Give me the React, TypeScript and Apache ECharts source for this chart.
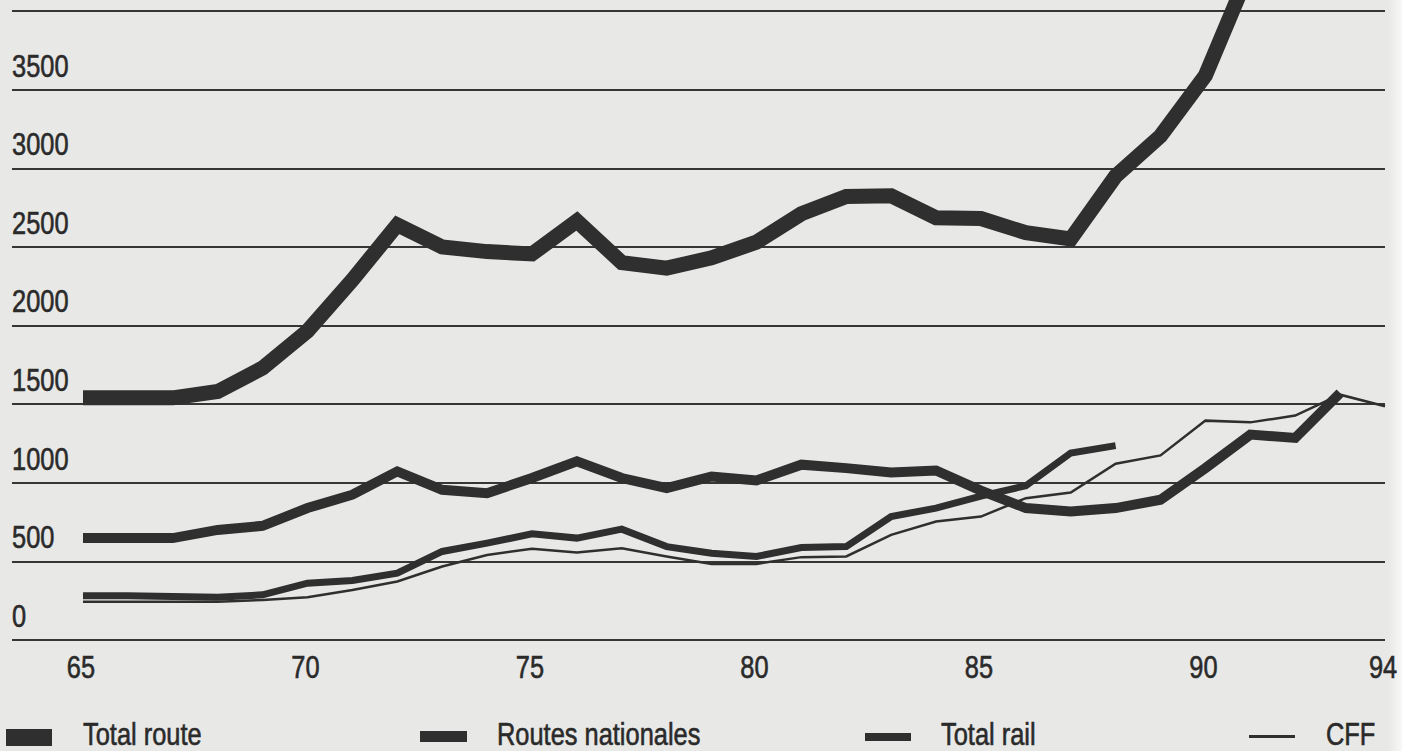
import React, { useEffect, useRef } from "react";
import * as echarts from "echarts";

// ---- data ----
const years = [65, 66, 67, 68, 69, 70, 71, 72, 73, 74, 75, 76, 77, 78, 79, 80, 81, 82, 83, 84, 85, 86, 87, 88, 89, 90, 91, 92, 93, 94];

const totalRoute = [1540, 1540, 1540, 1580, 1730, 1965, 2290, 2640, 2500, 2470, 2455, 2665, 2400, 2365, 2430, 2530, 2710, 2820, 2825, 2685, 2680, 2590, 2550, 2950, 3205, 3590, 4270];

const routesNationales = [648, 648, 648, 700, 726, 839, 924, 1072, 955, 934, 1030, 1136, 1030, 966, 1040, 1015, 1115, 1093, 1066, 1078, 950, 839, 817, 839, 892, 1093, 1306, 1285, 1571];

const totalRail = [282, 282, 276, 272, 287, 361, 378, 425, 563, 616, 675, 648, 705, 594, 552, 531, 588, 594, 785, 839, 915, 981, 1189, 1236];

const cff = [244, 244, 244, 244, 255, 272, 318, 372, 467, 541, 580, 556, 584, 531, 484, 484, 527, 531, 669, 754, 785, 902, 938, 1121, 1174, 1395, 1384, 1427, 1560, 1486];

const xTickLabels = [65, 70, 75, 80, 85, 90, 94];
const yTickLabels = [0, 500, 1000, 1500, 2000, 2500, 3000, 3500];
const yMin = 0;
const yMax = 4000;
const yInterval = 500;

const seriesNames = ["Total route", "Routes nationales", "Total rail", "CFF"];

const FONT = "'Liberation Sans', Arial, sans-serif";
const FONT_SIZE = 31;
const NARROW = 0.82; // Arial Narrow is Arial condensed to ~82 %
const INK = "#2f2f2f";
const TEXT = "#2a2a2a";
const BG = "#e8e8e6";

function pairs(values: number[]) {
  return values.map((v, i) => [years[i], v]);
}

function narrowText(x: number, y: number, text: string, align: string) {
  return {
    type: "text",
    x,
    y,
    scaleX: NARROW,
    silent: true,
    z: 100,
    style: {
      text,
      fill: TEXT,
      stroke: TEXT,
      lineWidth: 0.6,
      fontFamily: FONT,
      fontSize: FONT_SIZE,
      align,
      verticalAlign: "middle",
    },
  };
}

export default function App() {
  const ref = useRef<HTMLDivElement>(null);

  useEffect(() => {
    if (!ref.current) return;
    const chart = echarts.init(ref.current, null, { renderer: "svg" });

    const widths = [15, 10, 7, 2.5];
    const datasets = [totalRoute, routesNationales, totalRail, cff];

    chart.setOption({
      animation: false,
      backgroundColor: BG,
      grid: {
        left: 12,
        right: 17,
        top: 11,
        bottom: 111,
        containLabel: false,
        outerBoundsMode: "none",
      },
      xAxis: {
        type: "value",
        min: 65 - 71 / 44.9,
        max: 94,
        axisLine: { show: false },
        axisTick: { show: false },
        splitLine: { show: false },
        axisLabel: { show: false },
      },
      yAxis: {
        type: "value",
        min: yMin,
        max: yMax,
        interval: yInterval,
        axisLine: { show: false },
        axisTick: { show: false },
        splitLine: { show: true, lineStyle: { color: "#363636", width: 2 } },
        axisLabel: { show: false },
      },
      series: seriesNames.map((name, i) => ({
        name,
        type: "line",
        data: pairs(datasets[i]),
        symbol: "none",
        showSymbol: false,
        clip: false,
        z: 2 + i,
        lineStyle: { color: INK, width: widths[i], join: "miter", cap: "butt" },
      })),
    });

    // tick labels placed through the chart's own scales
    const graphic: any[] = [
      {
        type: "rect",
        z: -10,
        silent: true,
        shape: { x: 1388, y: 0, width: 14, height: 751 },
        style: {
          fill: new echarts.graphic.LinearGradient(0, 0, 1, 0, [
            { offset: 0, color: BG },
            { offset: 1, color: "#f8f8f8" },
          ]),
        },
      },
    ];

    const gridLeft = 12;
    const zeroY = chart.convertToPixel({ yAxisIndex: 0 }, 0) as number;
    yTickLabels.forEach((v) => {
      const py = chart.convertToPixel({ yAxisIndex: 0 }, v) as number;
      graphic.push(narrowText(gridLeft, py - 24, String(v), "left"));
    });
    xTickLabels.forEach((v) => {
      const px = chart.convertToPixel({ xAxisIndex: 0 }, v) as number;
      graphic.push(narrowText(px - 2, zeroY + 27, String(v), "center"));
    });

    // legend
    const legendLayout = [
      { sx: 6, sy: 729, sw: 46, sh: 17, tx: 83 },
      { sx: 420, sy: 731, sw: 47, sh: 11, tx: 497 },
      { sx: 865, sy: 733, sw: 46, sh: 8, tx: 941 },
      { sx: 1249, sy: 735, sw: 46, sh: 3, tx: 1326 },
    ];
    seriesNames.forEach((name, i) => {
      const L = legendLayout[i];
      graphic.push({
        type: "rect",
        silent: true,
        shape: { x: L.sx, y: L.sy, width: L.sw, height: L.sh },
        style: { fill: INK },
      });
      graphic.push(narrowText(L.tx, 734, name, "left"));
    });

    chart.setOption({ graphic });

    return () => chart.dispose();
  }, []);

  return (
    <div
      ref={ref}
      style={{ position: "fixed", left: 0, top: 0, width: 1402, height: 751 }}
    />
  );
}
